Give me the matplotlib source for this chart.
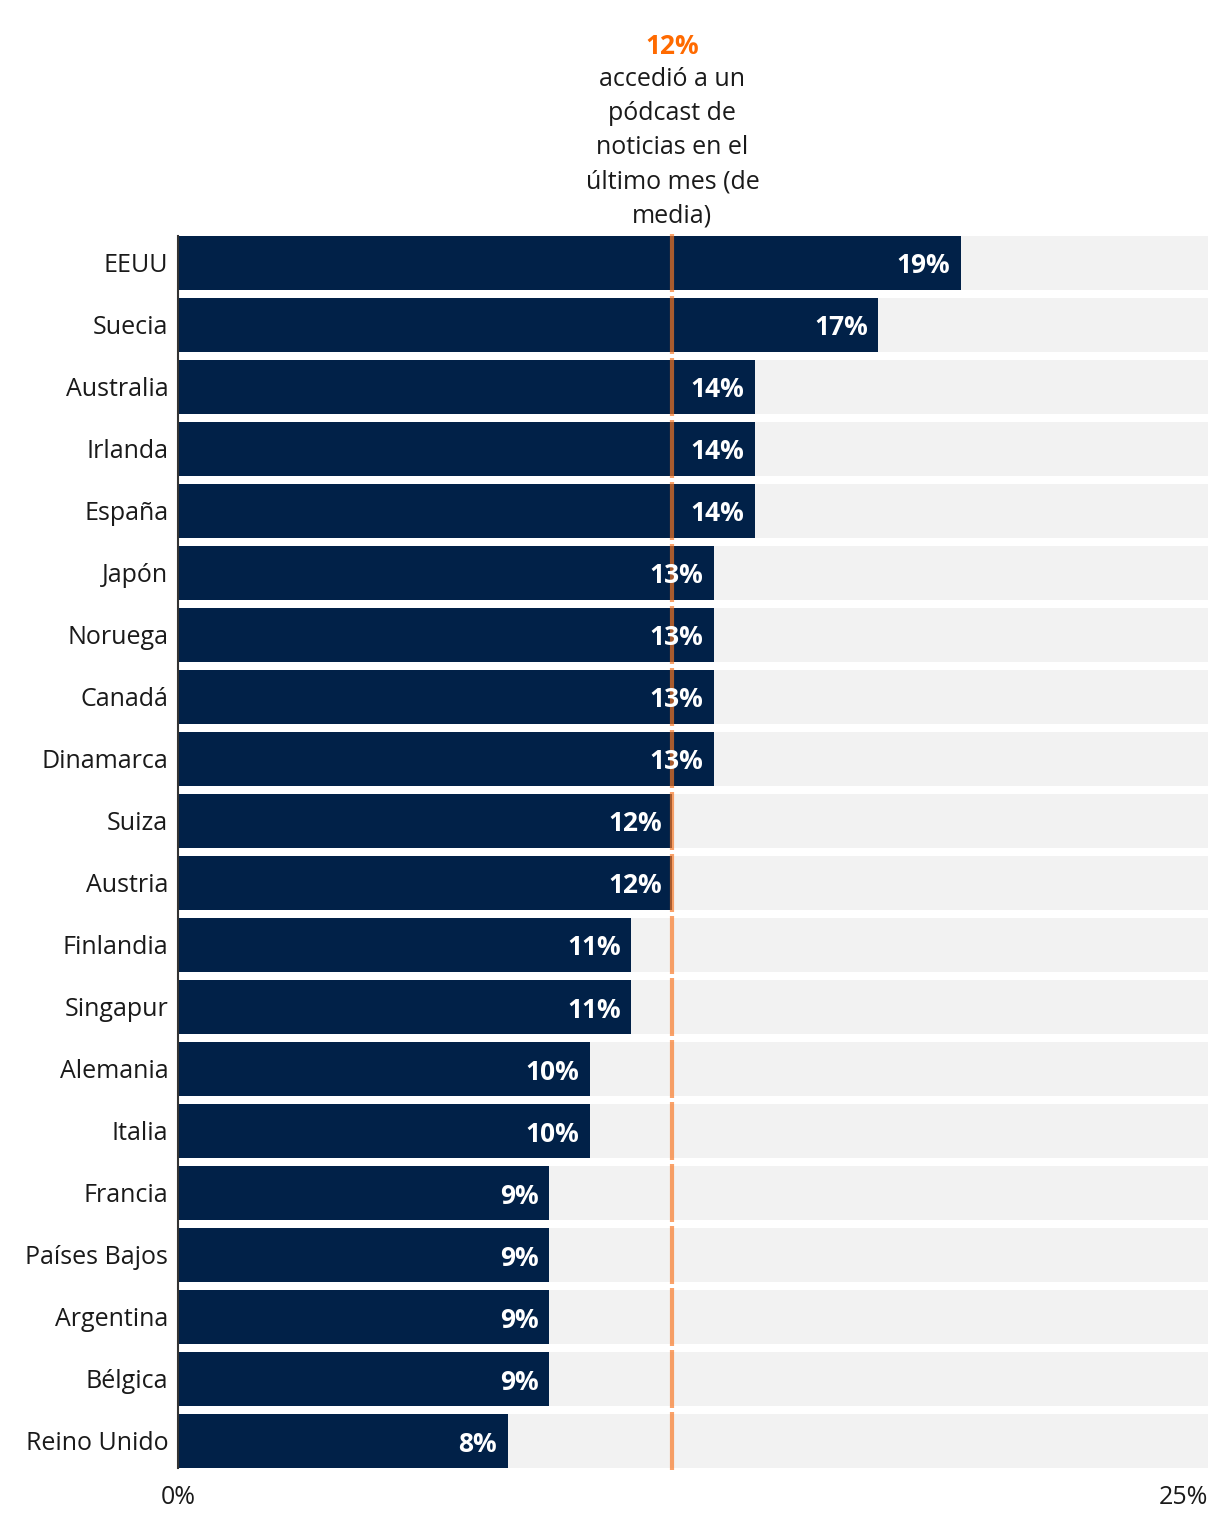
import matplotlib.pyplot as plt
import numpy as np

# Podcast de noticias: % que accedió en el último mes, por país
COUNTRIES = [
    "EEUU", "Suecia", "Australia", "Irlanda", "España", "Japón", "Noruega",
    "Canadá", "Dinamarca", "Suiza", "Austria", "Finlandia", "Singapur",
    "Alemania", "Italia", "Francia", "Países Bajos", "Argentina", "Bélgica",
    "Reino Unido",
]
VALUES = [19, 17, 14, 14, 14, 13, 13, 13, 13, 12, 12, 11, 11, 10, 10, 9, 9, 9, 9, 8]
AVERAGE = 12
X_MAX = 25
X_TICKS = [0, 25]
X_TICK_LABELS = ["0%", "25%"]
AVG_LINES = ["accedió a un", "pódcast de", "noticias en el", "último mes (de", "media)"]

NAVY = "#012148"
GREY_BG = "#f2f2f2"
ORANGE = "#f87723"
ORANGE_TXT = "#ff6a00"
TXT = "#1a1a1a"

plt.rcParams['font.family'] = ['Open Sans', 'DejaVu Sans']

W, H = 1220, 1522
fig = plt.figure(figsize=(W / 100, H / 100), dpi=100)

# axes placed in pixel terms: bars from x=178 to 1208, y=236 to 1468
left, right = 178 / W, 1208 / W
bottom, top = (H - 1468) / H, (H - 236) / H
ax = fig.add_axes([left, bottom, right - left, top - bottom])

n = len(COUNTRIES)
bar_h = 54 / 62
y = np.arange(n)

ax.barh(y, [X_MAX] * n, height=bar_h, color=GREY_BG, zorder=1)
ax.barh(y, VALUES, height=bar_h, color=NAVY, zorder=2)

# average line, drawn row by row
for yi in y:
    ax.plot([AVERAGE, AVERAGE], [yi - bar_h / 2 - 0.03, yi + bar_h / 2 + 0.03],
            color=ORANGE, alpha=0.68, lw=3, solid_capstyle='butt',
            zorder=3, clip_on=False)

# value labels inside bars
for yi, v in zip(y, VALUES):
    ax.annotate(f"{v}%", xy=(v, yi), xytext=(-7.5, 0), textcoords='offset points',
                ha='right', va='center_baseline', color='white', fontsize=19,
                fontweight='bold', zorder=4)

ax.set_xlim(0, X_MAX)
ax.set_ylim(n - 1 + bar_h / 2, -bar_h / 2)

ax.set_yticks(y)
ax.set_yticklabels(COUNTRIES, fontsize=18, color=TXT)
ax.tick_params(axis='y', length=0, pad=7)
for lab in ax.get_yticklabels():
    lab.set_va('center_baseline')

ax.set_xticks(X_TICKS)
ax.set_xticklabels(X_TICK_LABELS, fontsize=18, color=TXT)
ax.get_xticklabels()[-1].set_ha('right')
ax.tick_params(axis='x', length=0, pad=12)

for s in ['top', 'right', 'bottom']:
    ax.spines[s].set_visible(False)
ax.spines['left'].set_color('#333333')
ax.spines['left'].set_linewidth(1.5)
ax.spines['left'].set_zorder(5)

# annotation above the average line
x_avg = left + (right - left) * AVERAGE / X_MAX
fig.text(x_avg, 1 - 43 / H, f"{AVERAGE}%", ha='center', va='center_baseline',
         color=ORANGE_TXT, fontsize=19, fontweight='bold')
for k, line in enumerate(AVG_LINES):
    fig.text(x_avg, 1 - (77 + 34 * k) / H, line, ha='center',
             va='center_baseline', color=TXT, fontsize=18)

fig.savefig("out.png", dpi=100)
